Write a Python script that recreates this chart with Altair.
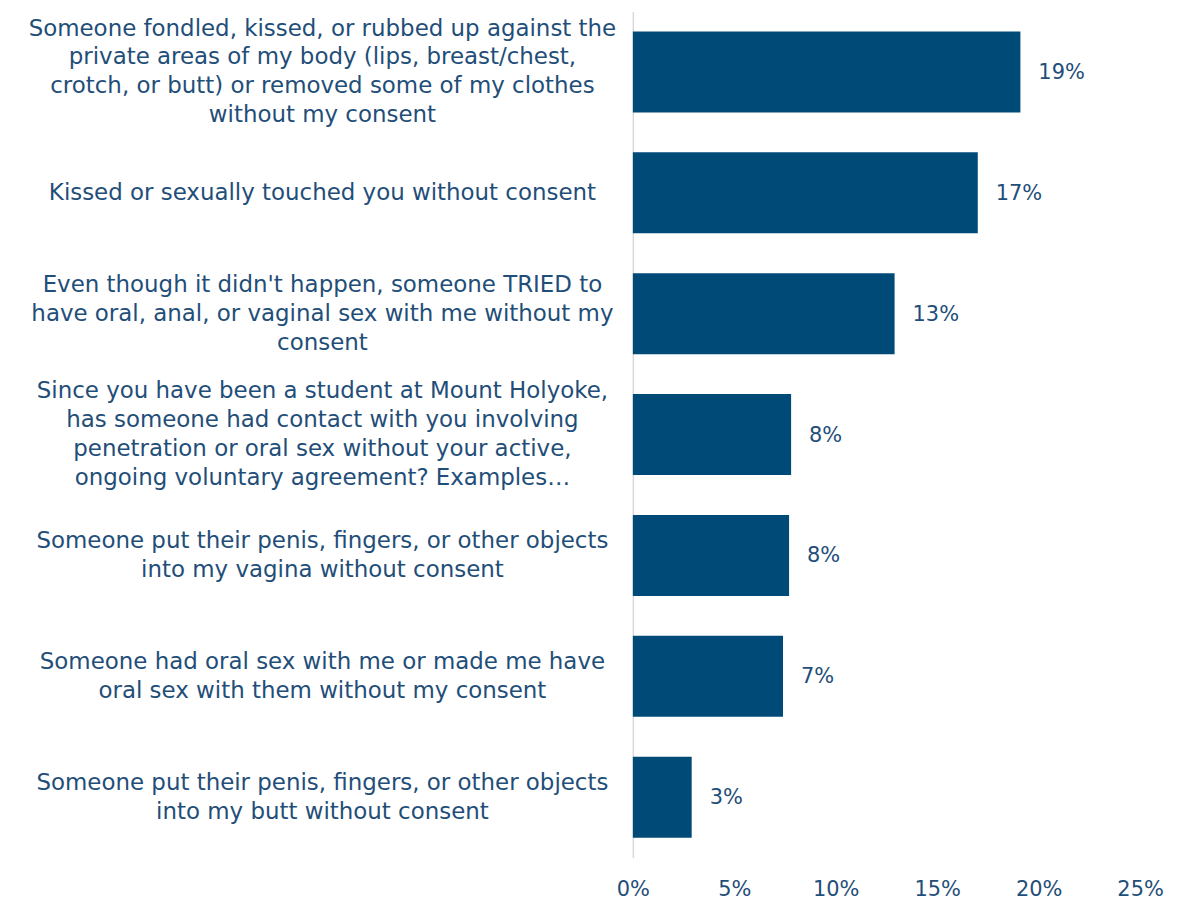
import altair as alt
import pandas as pd

categories = [
    "Someone fondled, kissed, or rubbed up against the|private areas of my body (lips, breast/chest,|crotch, or butt) or removed some of my clothes|without my consent",
    "Kissed or sexually touched you without consent",
    "Even though it didn't happen, someone TRIED to|have oral, anal, or vaginal sex with me without my|consent",
    "Since you have been a student at Mount Holyoke,|has someone had contact with you involving|penetration or oral sex without your active,|ongoing voluntary agreement?  Examples\u2026",
    "Someone put their penis, fingers, or other objects|into my vagina without consent",
    "Someone had oral sex with me or made me have|oral sex with them without my consent",
    "Someone put their penis, fingers, or other objects|into my butt without consent",
]
values = [0.191, 0.170, 0.129, 0.078, 0.077, 0.074, 0.029]
x_ticks = [0, 0.05, 0.10, 0.15, 0.20, 0.25]

df = pd.DataFrame({"cat": categories, "val": values})

BAR = "#004A78"
TXT = "#1F4E79"
FONT = "DejaVu Sans"
LH = 29

nlines = "length(split(datum.value, '|'))"
label_offset = {
    "condition": [
        {"test": f"{nlines} == 4", "value": -1.5 * LH},
        {"test": f"{nlines} == 3", "value": -1.0 * LH},
        {"test": f"{nlines} == 2", "value": -0.5 * LH},
    ],
    "value": 0,
}

y_enc = alt.Y(
    "cat:N",
    sort=categories,
    title=None,
    scale=alt.Scale(paddingInner=0.33, paddingOuter=0.165),
    axis=alt.Axis(
        labelExpr="split(datum.label, '|')",
        labelAlign="center",
        labelBaseline="middle",
        labelPadding=312,
        labelOffset=label_offset,
        labelFont=FONT,
        labelFontSize=23,
        labelLineHeight=LH,
        labelColor=TXT,
        labelLimit=0,
        ticks=False,
        domainColor="#D9D9D9",
        domainWidth=1.5,
    ),
)

x_enc = alt.X(
    "val:Q",
    title=None,
    scale=alt.Scale(domain=[0, 0.25], nice=False),
    axis=alt.Axis(
        values=x_ticks,
        format=".0%",
        grid=False,
        ticks=False,
        domain=False,
        labelFont=FONT,
        labelFontSize=21,
        labelColor=TXT,
        labelPadding=21,
        labelFlush=False,
    ),
)

bars = alt.Chart(df).mark_bar(color=BAR).encode(y=y_enc, x=x_enc)
labels = alt.Chart(df).mark_text(
    align="left", baseline="middle", dx=18, dy=1, font=FONT, fontSize=21, color=TXT
).encode(
    y=alt.Y("cat:N", sort=categories),
    x="val:Q",
    text=alt.Text("val:Q", format=".0%"),
)

chart = (
    alt.layer(bars, labels)
    .properties(
        width=509,
        height=849,
        background="white",
        padding={"left": 20, "top": 2, "right": 5, "bottom": 0},
    )
    .configure_view(stroke=None, strokeWidth=0)
)

chart.save("out.html", embed_options={"renderer": "svg", "actions": False})
